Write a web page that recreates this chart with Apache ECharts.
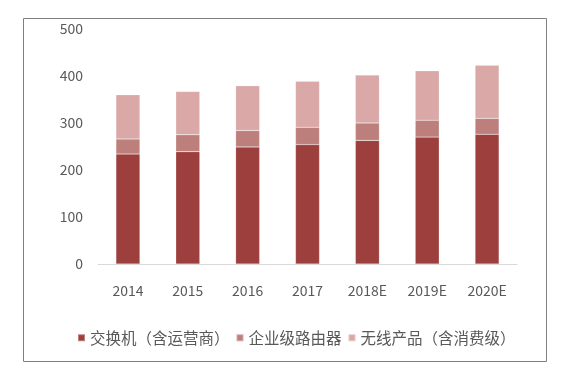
<!DOCTYPE html>
<html>
<head>
<meta charset="utf-8">
<script src="https://cdn.jsdelivr.net/npm/echarts@6/dist/echarts.min.js"></script>
<style>html,body{margin:0;padding:0;background:#fff;}#c{width:568px;height:370px;}</style>
</head>
<body>
<div id="c"></div>
<script>
const categories = ['2014', '2015', '2016', '2017', '2018E', '2019E', '2020E'];
const seriesNames = ['交换机（含运营商）', '企业级路由器', '无线产品（含消费级）'];
const switchValues = [234, 239, 249, 254, 263, 270, 276];
const routerValues = [32, 36, 35, 37, 37, 36, 34];
const wirelessValues = [94, 92, 95, 98, 102, 105, 113];
const yTicks = [0, 100, 200, 300, 400, 500];

const colors = ['#9C3F3D', '#BD7F7B', '#D9A8A7'];
const font = '"Noto Sans CJK SC", "Noto Sans", sans-serif';
const chart = echarts.init(document.getElementById('c'), null, {renderer: 'canvas'});
const dataArr = [switchValues, routerValues, wirelessValues];
chart.setOption({
  animation: false,
  backgroundColor: '#fff',
  color: colors,
  graphic: [{
    type: 'rect', left: 21, top: 16, silent: true,
    shape: {x: 0, y: 0, width: 523, height: 343},
    style: {fill: 'none', stroke: '#808080', lineWidth: 1}
  }],
  grid: {left: 98, right: 51, top: 29, bottom: 106, containLabel: false},
  legend: {
    left: 77, top: 330, padding: 0, itemWidth: 7, itemHeight: 7, itemGap: 6,
    icon: 'rect',
    textStyle: {fontFamily: font, fontSize: 15.5, color: '#595959', padding: [0,0,0,0]},
    data: seriesNames
  },
  xAxis: {
    type: 'category', data: categories,
    axisLine: {lineStyle: {color: '#D9D9D9', width: 1}},
    axisTick: {show: false},
    axisLabel: {margin: 20, fontFamily: font, fontSize: 14, color: '#595959'}
  },
  yAxis: {
    type: 'value', min: yTicks[0], max: yTicks[yTicks.length - 1], interval: 100,
    axisLine: {show: false}, axisTick: {show: false},
    splitLine: {show: false},
    axisLabel: {margin: 15, fontFamily: font, fontSize: 14, color: '#595959'}
  },
  series: seriesNames.map((n, i) => ({
    name: n, type: 'bar', stack: 'total', barWidth: 24,
    data: dataArr[i],
    itemStyle: {color: colors[i], borderColor: 'rgba(255,255,255,0.35)', borderWidth: 0.5}
  }))
});
</script>
</body>
</html>
